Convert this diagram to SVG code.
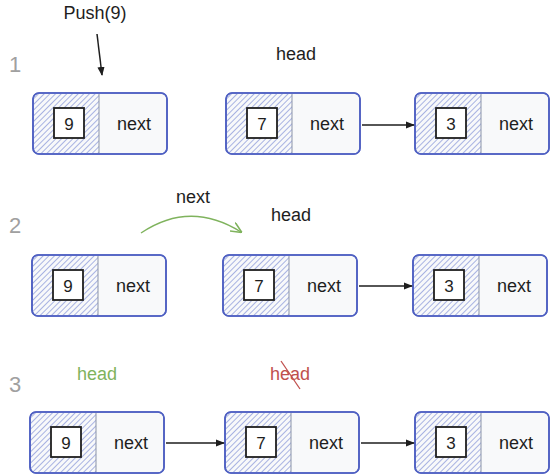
<svg xmlns="http://www.w3.org/2000/svg" width="551" height="475" viewBox="0 0 551 475">
<style>
  text { font-family: "Liberation Sans", "DejaVu Sans", sans-serif; }
  .outer { fill: #f8f9fa; stroke: #4f60c2; stroke-width: 1.6; }
  .left { fill: url(#hatch); }
  .div { stroke: #8a93a8; stroke-width: 1; }
  .box { fill: #ffffff; stroke: #1e1e1e; stroke-width: 1.8; }
  .val { font-size: 17px; fill: #1e1e1e; text-anchor: middle; }
  .nxt { font-size: 18px; fill: #1e1e1e; text-anchor: middle; }
  .step { font-size: 22px; fill: #a0a0a0; text-anchor: middle; }
  .lbl { font-size: 18px; fill: #1e1e1e; text-anchor: middle; }
  .conn { fill: none; stroke: #1e1e1e; stroke-width: 1.5; }
</style>
<defs>
  <pattern id="hatch" width="4" height="4" patternUnits="userSpaceOnUse" patternTransform="rotate(45)">
    <line x1="0" y1="0" x2="0" y2="4" stroke="#7183d2" stroke-width="1.2"/>
  </pattern>
  <marker id="ah" viewBox="0 0 10 10" refX="9" refY="5" markerWidth="9" markerHeight="9" markerUnits="userSpaceOnUse" orient="auto">
    <path d="M0,1 L10,5 L0,9 Z" fill="#1e1e1e"/>
  </marker>
  <marker id="ahg" viewBox="0 0 10 10" refX="9" refY="5" markerWidth="11" markerHeight="11" markerUnits="userSpaceOnUse" orient="auto">
    <path d="M0,0.5 L10,5 L0,9.5" fill="none" stroke="#7fb35d" stroke-width="1.4"/>
  </marker>
  <g id="node">
    <rect class="outer" x="0" y="0" width="134" height="61" rx="6"/>
    <path class="left" d="M6,0 H66 V61 H6 Q0,61 0,55 V6 Q0,0 6,0 Z"/>
    <rect x="0" y="0" width="134" height="61" rx="6" fill="none" stroke="#4f60c2" stroke-width="1.6"/>
    <line class="div" x1="66" y1="1" x2="66" y2="60"/>
    <rect class="box" x="21" y="15" width="30" height="30"/>
    <text class="nxt" x="101" y="37">next</text>
  </g>
</defs>

<!-- step labels -->
<text class="step" x="15" y="72">1</text>
<text class="step" x="15" y="233">2</text>
<text class="step" x="15" y="392">3</text>

<!-- free labels -->
<text class="lbl" x="95" y="19">Push(9)</text>
<text class="lbl" x="296" y="60">head</text>
<text class="lbl" x="193" y="203">next</text>
<text class="lbl" x="291" y="221">head</text>
<text class="lbl" x="97" y="380" style="fill:#7fb35d">head</text>
<text class="lbl" x="290" y="380" style="fill:#c0504d">head</text>
<line x1="281" y1="361" x2="300" y2="389" stroke="#c0504d" stroke-width="1.3"/>

<!-- row 1 -->
<g id="r1-n9"><use href="#node" x="33" y="93"/><text class="val" x="69" y="130">9</text></g>
<g id="r1-n7"><use href="#node" x="226" y="93"/><text class="val" x="262" y="130">7</text></g>
<g id="r1-n3"><use href="#node" x="415" y="93"/><text class="val" x="451" y="130">3</text></g>

<!-- row 2 -->
<g id="r2-n9"><use href="#node" x="32" y="255"/><text class="val" x="68" y="292">9</text></g>
<g id="r2-n7"><use href="#node" x="223" y="255"/><text class="val" x="259" y="292">7</text></g>
<g id="r2-n3"><use href="#node" x="413" y="255"/><text class="val" x="449" y="292">3</text></g>

<!-- row 3 -->
<g id="r3-n9"><use href="#node" x="30" y="412"/><text class="val" x="66" y="449">9</text></g>
<g id="r3-n7"><use href="#node" x="225" y="412"/><text class="val" x="261" y="449">7</text></g>
<g id="r3-n3"><use href="#node" x="415" y="412"/><text class="val" x="451" y="449">3</text></g>

<!-- connectors -->
<g id="connectors">
  <path class="conn" d="M97,34 L102,75" marker-end="url(#ah)"/>
  <path class="conn" d="M362,125 L414,125" marker-end="url(#ah)"/>
  <path d="M141,233 Q190,200 241,232" fill="none" stroke="#7fb35d" stroke-width="1.4" marker-end="url(#ahg)"/>
  <path class="conn" d="M359,286 L412,286" marker-end="url(#ah)"/>
  <path class="conn" d="M166,443 L224,443" marker-end="url(#ah)"/>
  <path class="conn" d="M361,443 L414,443" marker-end="url(#ah)"/>
</g>
</svg>
